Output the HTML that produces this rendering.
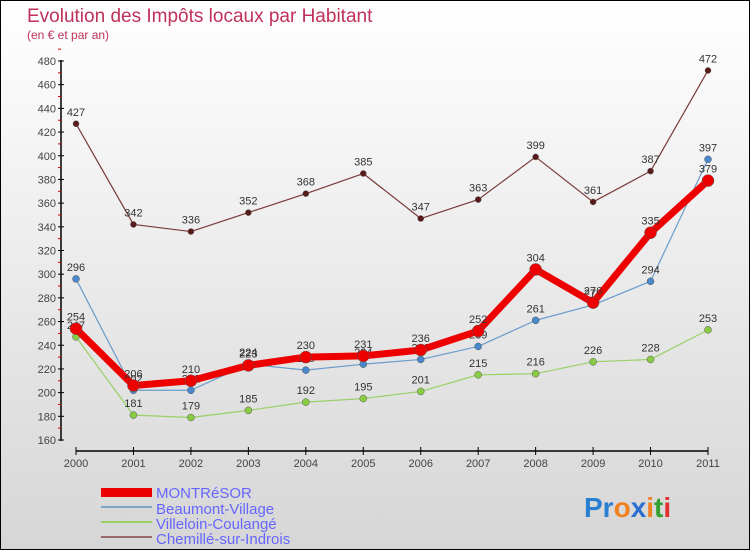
<!DOCTYPE html>
<html><head><meta charset="utf-8"><style>
body{margin:0;width:750px;height:550px;overflow:hidden;font-family:"Liberation Sans",sans-serif}
#wrap{position:relative;width:748px;height:548px;border:1px solid #000;background:linear-gradient(#fff,#d6d6d6)}
</style></head><body>
<div id="wrap">
<svg id="chart" width="748" height="548">
<text x="26" y="21" font-size="19" fill="#c0305a">Evolution des Impôts locaux par Habitant</text>
<text x="26" y="38" font-size="12" fill="#c0305a">(en € et par an)</text>
<g id="axes"></g><g id="series"></g>
<g font-size="15" fill="#6666ff">
<rect x="100" y="487" width="51" height="9" fill="#e00"/>
<text x="155" y="497">MONTRéSOR</text>
<rect x="100" y="505" width="51" height="2" fill="#7aa6cc"/>
<text x="155" y="513">Beaumont-Village</text>
<rect x="100" y="520" width="51" height="2" fill="#99d066"/>
<text x="155" y="528">Villeloin-Coulangé</text>
<rect x="100" y="535" width="51" height="2" fill="#9a6a6a"/>
<text x="155" y="543">Chemillé-sur-Indrois</text>
</g>
<text x="583" y="516" font-size="28" font-weight="bold"><tspan fill="#2a7fd0">Pr</tspan><tspan fill="#f08020">o</tspan><tspan fill="#2a6fd0">x</tspan><tspan fill="#f08020">i</tspan><tspan fill="#30a030">t</tspan><tspan fill="#e03030">i</tspan></text>
</svg></div>
<script>
const years=[2000,2001,2002,2003,2004,2005,2006,2007,2008,2009,2010,2011];
const yTicks=[160,180,200,220,240,260,280,300,320,340,360,380,400,420,440,460,480];
const montresor=[254,206,210,223,230,231,236,252,304,276,335,379];
const beaumont=[296,202,202,224,219,224,228,239,261,274,294,397];
const villeloin=[247,181,179,185,192,195,201,215,216,226,228,253];
const chemille=[427,342,336,352,368,385,347,363,399,361,387,472];
const NS="http://www.w3.org/2000/svg";
const X=i=>75+i*(632/11);
const Y=v=>439-(v-160)*(379/320);
function mk(t,a,p){const e=document.createElementNS(NS,t);for(const k in a)e.setAttribute(k,a[k]);p.appendChild(e);return e;}
const ax=document.getElementById('axes');
const yl=mk('line',{x1:60,y1:59,x2:60,y2:440,stroke:'#000','stroke-width':1.5},ax);


yTicks.forEach(v=>{
 mk('line',{x1:57,x2:63,y1:Y(v),y2:Y(v),stroke:'#000'},ax);
 mk('line',{x1:57,x2:60,y1:Y(v+10),y2:Y(v+10),stroke:'#c00'},ax);
 const t=mk('text',{x:55,y:Y(v)+4,'text-anchor':'end','font-size':11,fill:'#444'},ax);
 t.textContent=v;
 
 
});
const xl=mk('line',{x1:75,y1:450,x2:707,y2:450,stroke:'#000','stroke-width':1.5},ax);


years.forEach((yr,i)=>{
 mk('line',{x1:X(i),x2:X(i),y1:446,y2:454,stroke:'#000'},ax);
 const t=mk('text',{x:X(i),y:466,'text-anchor':'middle','font-size':11,fill:'#444'},ax);
 t.textContent=yr;
 
 
});
const sg=document.getElementById('series');
function draw(name,data,color,w,r,dot){
 const g=mk('g',{},sg);
 
 
 const p=mk('polyline',{points:data.map((v,i)=>X(i)+','+Y(v)).join(' '),fill:'none',stroke:color,'stroke-width':w,'stroke-linejoin':'round'},g);
 
 
 data.forEach((v,i)=>{
  const c=mk('circle',{cx:X(i),cy:Y(v),r:r,fill:dot,stroke:'#555','stroke-width':0.5},g);
  
  
  const t=mk('text',{x:X(i),y:Y(v)-8,'text-anchor':'middle','font-size':11,fill:'#333'},g);
  t.textContent=v;
  
  
 });
}
draw('chemille',chemille,'#7a3a3a',1.2,3,'#5a1a1a');
draw('villeloin',villeloin,'#99d066',1.2,3.5,'#88cc44');
draw('beaumont',beaumont,'#6a9ccc',1.2,3.5,'#4a88cc');
draw('montresor',montresor,'#ee0000',7,6,'#ee0000');
</script>
</body></html>
